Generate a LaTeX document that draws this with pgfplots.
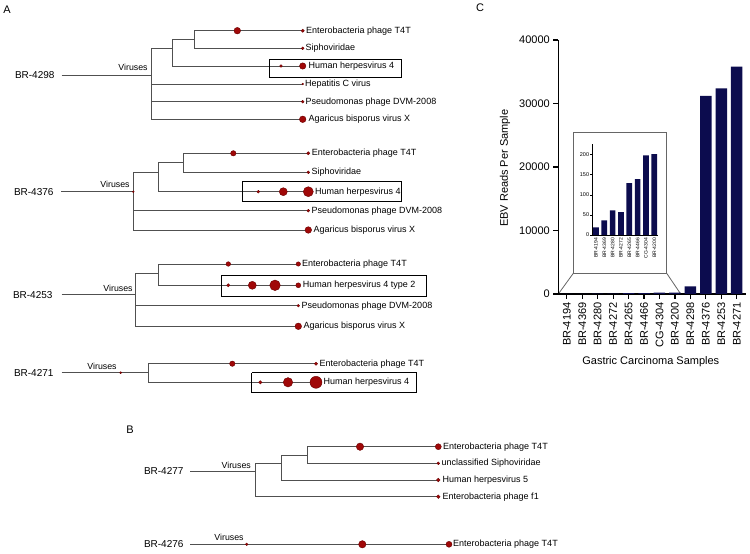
\documentclass[border=0pt]{standalone}
\usepackage{pgfplots}
\pgfplotsset{compat=1.18}
\usepackage{fontspec}
\setmainfont{Liberation Sans}
\definecolor{tree}{HTML}{505050}
\definecolor{dotf}{HTML}{A00808}
\definecolor{dote}{HTML}{6A0000}
\definecolor{navy}{HTML}{0C0C4E}
\newcommand\fs[1]{\fontsize{#1}{#1}\selectfont}
\begin{document}
\begin{tikzpicture}
\pgfplotsset{
  tl/.style={tree, line width=0.9pt, no marks},
  bx/.style={black, line width=0.9pt, no marks},
  dots/.style={scatter, only marks, mark=*,
    scatter/use mapped color={draw=dote, fill=dotf},
    visualization depends on={\thisrow{r}\as\rr},
    scatter/@pre marker code/.append style={/tikz/mark size=\rr}},
}
\begin{axis}[at={(0,0)}, anchor=south west, width=750pt, height=554pt, scale only axis,
  xmin=0, xmax=750, ymin=0, ymax=554, y dir=reverse, hide axis, clip=false]
\addplot[draw=none] coordinates {(0,0) (750,554)};
% panel letters
\node[font=\fs{11}] at (axis cs:7,10) {A};
\node[font=\fs{11}] at (axis cs:130,430) {B};
\node[font=\fs{11}] at (axis cs:480,8) {C};
% ---------- Tree 1: BR-4298
\addplot[tl] coordinates {(61.7,75) (151.7,75)};
\addplot[tl] coordinates {(302.7,30.7) (194.3,30.7) (194.3,48.3) (302.7,48.3)};
\addplot[tl] coordinates {(194.3,39) (172.7,39) (172.7,66) (302.7,66)};
\addplot[tl] coordinates {(172.7,48.3) (151.7,48.3) (151.7,119.3) (302.7,119.3)};
\addplot[tl] coordinates {(151.7,84) (302.7,84)};
\addplot[tl] coordinates {(151.7,101.7) (302.7,101.7)};
\addplot[dots] table[row sep=\\] {x y r\\ 237.3 30.7 3.3\\ 302.7 30.7 1.6\\ 302.7 48.3 1.4\\ 281 66 1.4\\ 302.7 66 3.2\\ 302.7 84 0.9\\ 302.7 101.7 1.4\\ 302.7 119.3 3.3\\};
\addplot[bx] coordinates {(269.3,59) (401,59) (401,77.3) (269.3,77.3) (269.3,59)};
\node[font=\fs{10},anchor=east] at (axis cs:58,75) {BR-4298};
\node[font=\fs{8.8}] at (axis cs:133,67.7) {Viruses};
\begin{scope}[every node/.style={font=\fs{9},anchor=west,inner sep=0pt}]
\node at (axis cs:306,30.7) {Enterobacteria phage T4T};
\node at (axis cs:305.5,48.3) {Siphoviridae};
\node at (axis cs:308.3,66) {Human herpesvirus 4};
\node at (axis cs:305,84) {Hepatitis C virus};
\node at (axis cs:305.5,101.7) {Pseudomonas phage DVM-2008};
\node at (axis cs:308.3,119.3) {Agaricus bisporus virus X};
\end{scope}
% ---------- Tree 2: BR-4376
\addplot[tl] coordinates {(61,191.7) (133.3,191.7)};
\addplot[tl] coordinates {(308.3,153.3) (183.3,153.3) (183.3,172.3) (308.3,172.3)};
\addplot[tl] coordinates {(183.3,162.7) (158.3,162.7) (158.3,191.7) (308.3,191.7)};
\addplot[tl] coordinates {(158.3,172.3) (133.3,172.3) (133.3,230) (308.3,230)};
\addplot[tl] coordinates {(133.3,210.7) (308.3,210.7)};
\addplot[dots] table[row sep=\\] {x y r\\ 133.3 191.7 0.9\\ 233.3 153.3 2.7\\ 308.3 153.3 1.6\\ 308.3 172.3 1.4\\ 258.3 191.7 1.4\\ 283.3 191.7 4\\ 308.3 191.7 5\\ 308.3 210.7 1.4\\ 308.3 230 3.3\\};
\addplot[bx] coordinates {(242.3,181.7) (401,181.7) (401,201.7) (242.3,201.7) (242.3,181.7)};
\node[font=\fs{10},anchor=east] at (axis cs:57,191.7) {BR-4376};
\node[font=\fs{8.8}] at (axis cs:115,184) {Viruses};
\begin{scope}[every node/.style={font=\fs{9},anchor=west,inner sep=0pt}]
\node at (axis cs:311.7,153.3) {Enterobacteria phage T4T};
\node at (axis cs:311.3,172.3) {Siphoviridae};
\node at (axis cs:315,191.7) {Human herpesvirus 4};
\node at (axis cs:311.3,210.7) {Pseudomonas phage DVM-2008};
\node at (axis cs:313.3,230) {Agaricus bisporus virus X};
\end{scope}
% ---------- Tree 3: BR-4253
\addplot[tl] coordinates {(61.7,294.7) (135,294.7)};
\addplot[tl] coordinates {(298.3,264) (158.3,264) (158.3,285.3) (298.3,285.3)};
\addplot[tl] coordinates {(158.3,273.3) (135,273.3) (135,326.3) (298.3,326.3)};
\addplot[tl] coordinates {(135,305.7) (298.3,305.7)};
\addplot[dots] table[row sep=\\] {x y r\\ 228.3 264 2.3\\ 298.3 264 2.2\\ 228.3 285.3 1.6\\ 252.3 285.3 4\\ 275 285.3 5.3\\ 298.3 285.3 2.5\\ 298.3 305.7 1.3\\ 298.3 326.3 3.3\\};
\addplot[bx] coordinates {(221,275.7) (426,275.7) (426,296) (221,296) (221,275.7)};
\node[font=\fs{10},anchor=east] at (axis cs:56,294.7) {BR-4253};
\node[font=\fs{8.8}] at (axis cs:118,288.3) {Viruses};
\begin{scope}[every node/.style={font=\fs{9},anchor=west,inner sep=0pt}]
\node at (axis cs:302,264) {Enterobacteria phage T4T};
\node at (axis cs:302.7,285.3) {Human herpesvirus 4 type 2};
\node at (axis cs:301.5,305.7) {Pseudomonas phage DVM-2008};
\node at (axis cs:303.3,326.3) {Agaricus bisporus virus X};
\end{scope}
% ---------- Tree 4: BR-4271
\addplot[tl] coordinates {(61.7,372.7) (148.3,372.7)};
\addplot[tl] coordinates {(316,363.7) (148.3,363.7) (148.3,382.3) (316,382.3)};
\addplot[dots] table[row sep=\\] {x y r\\ 120.7 372.7 1.0\\ 232.3 363.7 2.7\\ 316 363.7 1.6\\ 260.3 382.3 1.7\\ 288 382.3 4.7\\ 316 382.3 6\\};
\addplot[bx] coordinates {(251.7,372.7) (416.7,372.7) (416.7,392.3) (251.7,392.3) (251.7,372.7)};
\node[font=\fs{10},anchor=east] at (axis cs:57,372.7) {BR-4271};
\node[font=\fs{8.8}] at (axis cs:102,366.7) {Viruses};
\begin{scope}[every node/.style={font=\fs{9},anchor=west,inner sep=0pt}]
\node at (axis cs:319.3,363.7) {Enterobacteria phage T4T};
\node at (axis cs:323.5,382.3) {Human herpesvirus 4};
\end{scope}
% ---------- Tree 5: BR-4277
\addplot[tl] coordinates {(190,471) (255,471)};
\addplot[tl] coordinates {(438.3,446.7) (307.7,446.7) (307.7,463.3) (438.3,463.3)};
\addplot[tl] coordinates {(307.7,455) (281,455) (281,480) (438.3,480)};
\addplot[tl] coordinates {(281,463.3) (255,463.3) (255,496.7) (438.3,496.7)};
\addplot[dots] table[row sep=\\] {x y r\\ 360 446.7 3.7\\ 438.3 446.7 3\\ 438.3 463.3 1.4\\ 438.3 480 1.8\\ 438.3 496.7 1.8\\};
\node[font=\fs{10},anchor=east] at (axis cs:187,471) {BR-4277};
\node[font=\fs{8.8}] at (axis cs:236.2,465) {Viruses};
\begin{scope}[every node/.style={font=\fs{9},anchor=west,inner sep=0pt}]
\node at (axis cs:443,446.7) {Enterobacteria phage T4T};
\node at (axis cs:441.5,463.3) {unclassified Siphoviridae};
\node at (axis cs:442.5,480) {Human herpesvirus 5};
\node at (axis cs:442.5,496.7) {Enterobacteria phage f1};
\end{scope}
% ---------- Tree 6: BR-4276
\addplot[tl] coordinates {(190,544.3) (449,544.3)};
\addplot[dots] table[row sep=\\] {x y r\\ 246.7 544.3 1.3\\ 362.3 544.3 3.7\\ 449 544.3 3\\};
\node[font=\fs{10},anchor=east] at (axis cs:187,544.3) {BR-4276};
\node[font=\fs{8.8}] at (axis cs:229,537.3) {Viruses};
\node[font=\fs{9},anchor=west,inner sep=0pt] at (axis cs:453,544.3) {Enterobacteria phage T4T};
% ---------- Panel C decorations
\addplot[gray!80!black, line width=0.8pt, no marks] coordinates {(573.3,273.3) (573.3,132.3) (666.7,132.3) (666.7,273.3) (573.3,273.3)};
\addplot[gray!80!black, line width=0.8pt, no marks] coordinates {(573.3,273.3) (558.3,294)};
\addplot[gray!80!black, line width=0.8pt, no marks] coordinates {(666.7,273.3) (680.7,294)};
\node[font=\fs{11},rotate=90] at (axis cs:505,168.3) {EBV Reads Per Sample};
\node[font=\fs{11}] at (axis cs:650.8,362) {Gastric Carcinoma Samples};
\end{axis}
% ---------- Main bar chart
\begin{axis}[at={(558.3pt,260pt)}, anchor=south west, scale only axis,
  width=187.7pt, height=254pt, xmin=-0.55, xmax=11.6, ymin=0, ymax=40000,
  axis x line*=bottom, axis y line*=left, axis line style={line width=1.4pt,-},
  scaled y ticks=false,
  /pgf/number format/assume math mode=true,
  ytick={0,10000,20000,30000,40000}, yticklabels={0,10000,20000,30000,40000},
  xtick={0,1,2,3,4,5,6,7,8,9,10,11},
  xticklabels={BR-4194,BR-4369,BR-4280,BR-4272,BR-4265,BR-4466,CG-4304,BR-4200,BR-4298,BR-4376,BR-4253,BR-4271},
  xticklabel style={rotate=90, anchor=east, font=\fs{11}},
  yticklabel style={font=\fs{11}},
  tick align=outside, major tick length=5pt, tick style={black, line width=1.2pt},
  ybar, bar width=11.5pt, bar shift=0pt, clip=false]
\addplot[fill=navy, draw=none] coordinates {(0,19) (1,36.5) (2,61.4) (3,57.3) (4,129.5) (5,139.4) (6,198.3) (7,201.7) (8,1200) (9,31200) (10,32400) (11,35800)};
\end{axis}
% ---------- Inset
\begin{axis}[at={(592.3pt,319pt)}, anchor=south west, scale only axis,
  width=66pt, height=91.1pt, xmin=-0.44, xmax=7.48, ymin=0, ymax=227,
  axis x line*=bottom, axis y line*=left, axis line style={line width=0.8pt,-},
  scaled y ticks=false,
  /pgf/number format/assume math mode=true,
  ytick={0,50,100,150,200}, yticklabels={0,50,100,150,200},
  xtick={0,1,2,3,4,5,6,7},
  xticklabels={BR-4194,BR-4369,BR-4280,BR-4272,BR-4265,BR-4466,CG-4304,BR-4200},
  xticklabel style={rotate=90, anchor=east, font=\fs{5}, inner sep=1pt},
  yticklabel style={font=\fs{5.5}, inner sep=1pt},
  tick align=outside, major tick length=2pt, tick style={black, line width=0.6pt},
  x tick style={draw=none},
  ybar, bar width=5.7pt, bar shift=0pt]
\addplot[fill=navy, draw=none] coordinates {(0,19) (1,36.5) (2,61.4) (3,57.3) (4,129.5) (5,139.4) (6,198.3) (7,201.7)};
\end{axis}
\end{tikzpicture}
\end{document}
